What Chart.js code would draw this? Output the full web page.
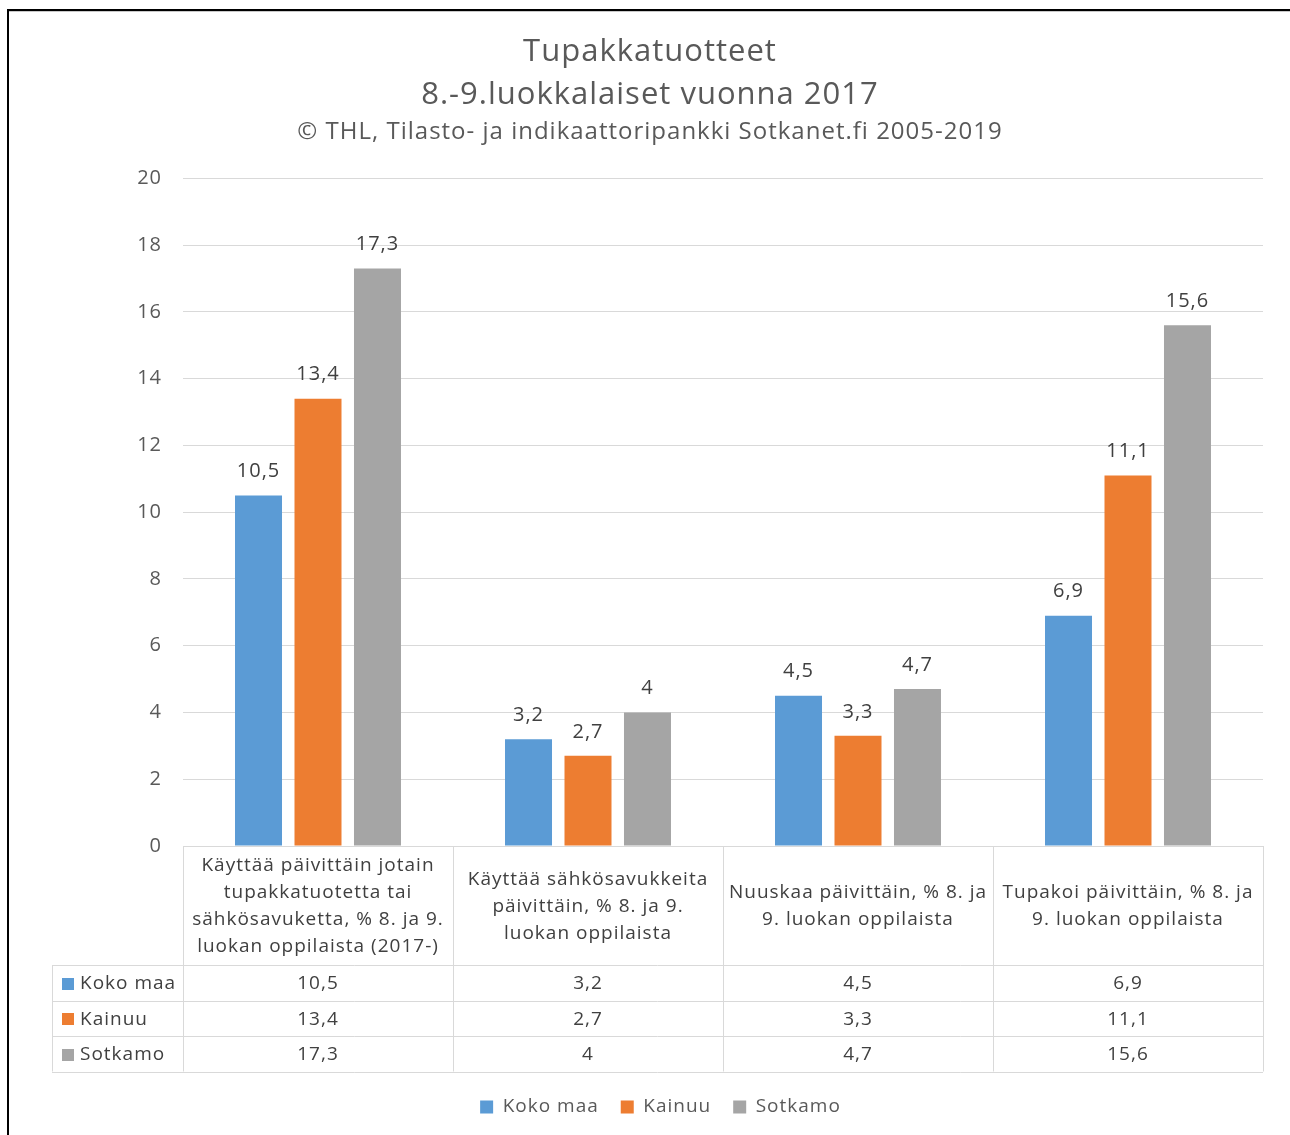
<!DOCTYPE html>
<html><head><meta charset="utf-8">
<script src="https://cdn.jsdelivr.net/npm/chart.js@4.4.0/dist/chart.umd.min.js"></script>
<style>html,body{margin:0;padding:0;background:#fff;overflow:hidden;} #wrap{position:absolute;left:0;top:0;width:1290px;height:1135px;}</style>
</head><body><div id="wrap"><canvas id="c"></canvas></div>
<script>
const categories = [
  ["Käyttää päivittäin jotain", "tupakkatuotetta tai", "sähkösavuketta, % 8. ja 9.", "luokan oppilaista (2017-)"],
  ["Käyttää sähkösavukkeita", "päivittäin, % 8. ja 9.", "luokan oppilaista"],
  ["Nuuskaa päivittäin, % 8. ja", "9. luokan oppilaista"],
  ["Tupakoi päivittäin, % 8. ja", "9. luokan oppilaista"]
];
const seriesNames = ["Koko maa", "Kainuu", "Sotkamo"];
const kokoMaa = [10.5, 3.2, 4.5, 6.9];
const kainuu = [13.4, 2.7, 3.3, 11.1];
const sotkamo = [17.3, 4, 4.7, 15.6];
const seriesColors = ["#5B9BD5", "#ED7D31", "#A5A5A5"];
const yMin = 0, yMax = 20, yStep = 2;
const titleLines = ["Tupakkatuotteet", "8.-9.luokkalaiset vuonna 2017"];
const subtitleText = "© THL, Tilasto- ja indikaattoripankki Sotkanet.fi 2005-2019";

const FONT = "'Open Sans', 'Noto Sans', sans-serif";
const fmt = v => String(v).replace('.', ',');

const frame = {
  id: 'frame',
  beforeDraw(chart) {
    const ctx = chart.ctx;
    ctx.save();
    ctx.fillStyle = '#fff';
    ctx.fillRect(0, 0, chart.width, chart.height);
    ctx.fillStyle = '#000';
    ctx.fillRect(7, 9, chart.width - 7, 2);
    ctx.fillRect(7, 9, 2, chart.height - 9);
    ctx.fillStyle = '#c8c8c8';
    ctx.fillRect(9, 11, chart.width - 9, 1);
    ctx.restore();
    ctx.letterSpacing = '1px';
  }
};

const valueLabels = {
  id: 'valueLabels',
  afterDatasetsDraw(chart) {
    const ctx = chart.ctx;
    ctx.save();
    ctx.letterSpacing = '1px';
    ctx.font = '20px ' + FONT;
    ctx.fillStyle = '#404040';
    ctx.textAlign = 'center';
    ctx.textBaseline = 'middle';
    chart.data.datasets.forEach((ds, di) => {
      chart.getDatasetMeta(di).data.forEach((bar, i) => {
        ctx.fillText(fmt(ds.data[i]), bar.x, bar.y - 24);
      });
    });
    ctx.restore();
  }
};

const dataTable = {
  id: 'dataTable',
  afterDraw(chart) {
    const ctx = chart.ctx;
    const xs = chart.scales.x;
    const area = chart.chartArea;
    const n = chart.data.labels.length;
    const cw = (area.right - area.left) / n;
    const top = area.bottom;
    const headH = 119;
    const rowH = 35.5;
    const leftX = 52;
    const rows = chart.data.datasets.length;
    const bottom = top + headH + rows * rowH;
    ctx.save();
    ctx.letterSpacing = '1px';
    ctx.strokeStyle = '#d9d9d9';
    ctx.lineWidth = 1;
    const hl = (x1, x2, y) => { ctx.beginPath(); ctx.moveTo(x1, Math.round(y) + 0.5); ctx.lineTo(x2, Math.round(y) + 0.5); ctx.stroke(); };
    const vl = (x, y1, y2) => { ctx.beginPath(); ctx.moveTo(Math.round(x) + 0.5, y1); ctx.lineTo(Math.round(x) + 0.5, y2); ctx.stroke(); };
    hl(area.left, area.right, top);
    for (let r = 0; r <= rows; r++) hl(leftX, area.right, top + headH + r * rowH);
    vl(leftX, top + headH, bottom);
    for (let i = 0; i <= n; i++) vl(area.left + i * cw, top, bottom);

    ctx.font = '19px ' + FONT;
    ctx.fillStyle = '#404040';
    ctx.textBaseline = 'middle';
    ctx.textAlign = 'center';
    const lh = 27;
    chart.data.labels.forEach((lab, i) => {
      const cx = xs.getPixelForValue(i);
      const lines = Array.isArray(lab) ? lab : [lab];
      const cy = top + headH / 2 + 1;
      lines.forEach((ln, k) => {
        ctx.fillText(ln, cx, cy + (k - (lines.length - 1) / 2) * lh);
      });
    });
    chart.data.datasets.forEach((ds, r) => {
      const cy = top + headH + r * rowH + rowH / 2 + 1;
      ctx.textAlign = 'left';
      ctx.fillStyle = ds.backgroundColor;
      ctx.fillRect(62, Math.round(cy - 6), 12, 12);
      ctx.fillStyle = '#404040';
      ctx.fillText(ds.label, 80, cy);
      ctx.textAlign = 'center';
      ds.data.forEach((v, i) => {
        ctx.fillText(fmt(v), xs.getPixelForValue(i), cy);
      });
    });
    ctx.restore();
  }
};

new Chart(document.getElementById('c'), {
  type: 'bar',
  data: {
    labels: categories,
    datasets: [
      { label: seriesNames[0], data: kokoMaa, backgroundColor: seriesColors[0] },
      { label: seriesNames[1], data: kainuu, backgroundColor: seriesColors[1] },
      { label: seriesNames[2], data: sotkamo, backgroundColor: seriesColors[2] }
    ]
  },
  options: {
    responsive: true,
    maintainAspectRatio: false,
    animation: false,
    devicePixelRatio: 1,
    categoryPercentage: 0.661,
    barPercentage: 0.79,
    layout: { padding: { top: 0, left: 37, right: 27, bottom: 8.5 } },
    plugins: {
      title: {
        display: true,
        text: titleLines,
        color: '#595959',
        font: { family: FONT, size: 31, weight: 'normal', lineHeight: 1.387 },
        padding: { top: 31, bottom: 0 }
      },
      subtitle: {
        display: true,
        text: subtitleText,
        color: '#595959',
        font: { family: FONT, size: 24, weight: 'normal', lineHeight: 1.2 },
        padding: { top: 1, bottom: 31.6 }
      },
      legend: {
        position: 'bottom',
        labels: {
          color: '#595959',
          font: { family: FONT, size: 19 },
          boxWidth: 13,
          boxHeight: 13,
          padding: 22
        }
      },
      tooltip: { enabled: false }
    },
    scales: {
      x: {
        display: true,
        grid: { display: false },
        border: { display: false },
        ticks: { display: false },
        afterFit(s) { s.height = 229.5; }
      },
      y: {
        min: yMin, max: yMax,
        ticks: { stepSize: yStep, padding: 21, color: '#595959', font: { family: FONT, size: 20 } },
        grid: { color: '#d9d9d9', lineWidth: 1, drawTicks: false },
        border: { display: false },
        afterFit(s) { s.width = 146; }
      }
    }
  },
  plugins: [frame, valueLabels, dataTable]
});
</script>
</body></html>
